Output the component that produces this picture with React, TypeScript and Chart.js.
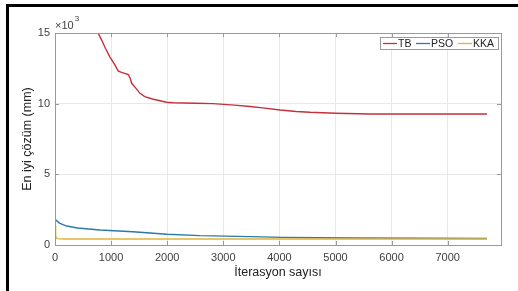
import React, { useEffect, useRef } from "react";
import { Chart, registerables } from "chart.js";

Chart.register(...registerables);

const seriesNames = ["TB", "PSO", "KKA"];
const seriesColors = ["#c5303a", "#2b7aa8", "#e3b43a"];

const tbIter = [700, 767, 832, 900, 980, 1060, 1128, 1200, 1307, 1340, 1367, 1440, 1515, 1600, 1752, 1990, 2109, 2500, 2817, 3200, 3476, 3700, 4011, 4300, 4545, 5000, 5615, 7700];
const tbValues = [15500, 15000, 14500, 13900, 13300, 12800, 12300, 12200, 12050, 11800, 11440, 11100, 10730, 10500, 10310, 10100, 10070, 10030, 10000, 9900, 9800, 9700, 9550, 9450, 9390, 9320, 9270, 9270];

const psoIter = [0, 20, 80, 208, 400, 802, 1390, 1996, 2585, 3476, 4064, 5312, 7700];
const psoValues = [1890, 1750, 1550, 1340, 1200, 1060, 940, 760, 660, 590, 540, 500, 460];

const kkaIter = [0, 8, 15, 40, 150, 7700];
const kkaValues = [1400, 1000, 600, 450, 420, 420];

const xTicks = [0, 1000, 2000, 3000, 4000, 5000, 6000, 7000];
const yTicks = [0, 5000, 10000, 15000];

const xTitle = "İterasyon sayısı";
const yTitle = "En iyi çözüm (mm)";

const FONT = "'Liberation Sans', Arial, sans-serif";
const BOX = "#9a9a9a";
const TXT = "#404040";

const decorPlugin = {
  id: "decor",
  beforeDraw(chart: any) {
    const { ctx } = chart;
    ctx.save();
    ctx.fillStyle = "#000";
    ctx.fillRect(6, 4, 520, 3);
    ctx.fillRect(6, 4, 3, 300);
    ctx.restore();
  },
  afterDatasetsDraw(chart: any) {
    const { ctx, chartArea: a, scales } = chart;
    ctx.save();
    ctx.strokeStyle = BOX;
    ctx.lineWidth = 1;
    ctx.beginPath();
    xTicks.forEach((v) => {
      const x = Math.round(scales.x.getPixelForValue(v)) + 0.5;
      ctx.moveTo(x, a.bottom);
      ctx.lineTo(x, a.bottom - 4);
      ctx.moveTo(x, a.top);
      ctx.lineTo(x, a.top + 4);
    });
    yTicks.forEach((v) => {
      const y = Math.round(scales.y.getPixelForValue(v)) + 0.5;
      ctx.moveTo(a.left, y);
      ctx.lineTo(a.left + 4, y);
      ctx.moveTo(a.right, y);
      ctx.lineTo(a.right - 4, y);
    });
    ctx.stroke();
    ctx.strokeRect(Math.round(a.left) + 0.5, Math.round(a.top) + 0.5, Math.round(a.right - a.left), Math.round(a.bottom - a.top));

    ctx.fillStyle = TXT;
    ctx.textBaseline = "middle";
    ctx.textAlign = "left";
    ctx.font = `11px ${FONT}`;
    ctx.fillText("×10", a.left, a.top - 7);
    const w = ctx.measureText("×10").width;
    ctx.font = `8px ${FONT}`;
    ctx.fillText("3", a.left + w + 1, a.top - 14);

    const lx = 380.5, ly = 37.5, lw = 118, lh = 12;
    ctx.fillStyle = "#ffffff";
    ctx.fillRect(lx, ly, lw, lh);
    ctx.strokeStyle = BOX;
    ctx.lineWidth = 1;
    ctx.strokeRect(lx, ly, lw, lh);
    const lineStarts = [383, 416, 458];
    ctx.font = `10.5px ${FONT}`;
    ctx.textBaseline = "middle";
    seriesNames.forEach((name, i) => {
      ctx.strokeStyle = seriesColors[i];
      ctx.lineWidth = 1.3;
      ctx.beginPath();
      ctx.moveTo(lineStarts[i], ly + lh / 2);
      ctx.lineTo(lineStarts[i] + 14, ly + lh / 2);
      ctx.stroke();
      ctx.fillStyle = "#222";
      ctx.fillText(name, lineStarts[i] + 15, ly + lh / 2 + 0.5);
    });
    ctx.restore();
  },
};

export default function App() {
  const ref = useRef<HTMLCanvasElement | null>(null);
  useEffect(() => {
    if (!ref.current) return;
    const mk = (xs: number[], ys: number[]) => xs.map((x, i) => ({ x, y: ys[i] }));
    const chart = new Chart(ref.current, {
      type: "line",
      data: {
        datasets: [
          { label: seriesNames[0], data: mk(tbIter, tbValues), borderColor: seriesColors[0], borderWidth: 1.4, pointRadius: 0, order: 3 },
          { label: seriesNames[1], data: mk(psoIter, psoValues), borderColor: seriesColors[1], borderWidth: 1.4, pointRadius: 0, order: 2 },
          { label: seriesNames[2], data: mk(kkaIter, kkaValues), borderColor: seriesColors[2], borderWidth: 1.4, pointRadius: 0, order: 1 },
        ],
      },
      options: {
        animation: false,
        responsive: false,
        events: [],
        layout: { padding: { left: 0, top: 33, right: 17, bottom: 0 } },
        plugins: { legend: { display: false }, tooltip: { enabled: false } },
        scales: {
          x: {
            type: "linear",
            min: 0,
            max: 7950,
            afterBuildTicks: (s: any) => {
              s.ticks = xTicks.map((v) => ({ value: v }));
            },
            afterFit: (s: any) => {
              s.height = 46;
            },
            border: { display: false },
            grid: { color: "#e8e8e8", drawTicks: false },
            ticks: { autoSkip: false, maxRotation: 0, padding: 6, color: TXT, font: { family: FONT, size: 11 }, callback: (v: any) => String(v) },
            title: { display: true, text: xTitle, color: "#222", padding: { top: 0, bottom: 11 }, font: { family: FONT, size: 12.5 } },
          },
          y: {
            type: "linear",
            min: 0,
            max: 15000,
            afterBuildTicks: (s: any) => {
              s.ticks = yTicks.map((v) => ({ value: v }));
            },
            afterFit: (s: any) => {
              s.width = 55;
            },
            border: { display: false },
            grid: { color: "#e8e8e8", drawTicks: false },
            ticks: { padding: 5, color: TXT, font: { family: FONT, size: 11 }, callback: (v: any) => String(Number(v) / 1000) },
            title: { display: true, text: yTitle, color: "#222", padding: { top: 20, bottom: 0 }, font: { family: FONT, size: 12.5 } },
          },
        },
      },
      plugins: [decorPlugin],
    });
    return () => chart.destroy();
  }, []);
  return (
    <div style={{ position: "absolute", left: 0, top: 0, width: 518, height: 291, background: "#fff", overflow: "hidden" }}>
      <canvas ref={ref} width={518} height={291} style={{ display: "block" }} />
    </div>
  );
}
